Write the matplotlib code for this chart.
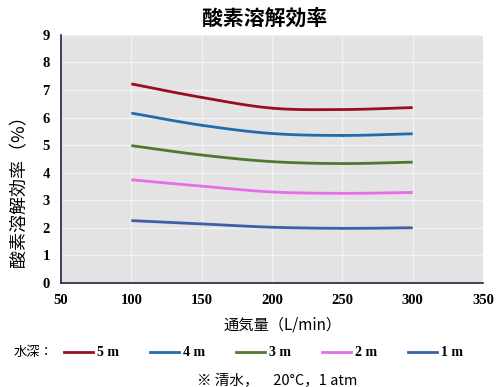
import numpy as np
import matplotlib
matplotlib.use("Agg")
import matplotlib.pyplot as plt
from matplotlib.lines import Line2D

plt.rcParams['font.family'] = ['Noto Sans CJK JP', 'DejaVu Sans']

# data
airflow = [100, 150, 200, 250, 300]
depth_labels = ['5 m', '4 m', '3 m', '2 m', '1 m']
eff_5m = [7.22, 6.73, 6.34, 6.29, 6.36]
eff_4m = [6.16, 5.72, 5.42, 5.35, 5.41]
eff_3m = [4.98, 4.64, 4.40, 4.33, 4.38]
eff_2m = [3.74, 3.51, 3.30, 3.25, 3.28]
eff_1m = [2.26, 2.14, 2.02, 1.98, 2.00]
series = [eff_5m, eff_4m, eff_3m, eff_2m, eff_1m]
colors = ['#9a0f1e', '#1f6cae', '#4d7a2e', '#e66ee6', '#3c5fa6']


def smooth(x, y, n=30):
    # catmull-rom drawing, like Excel's smoothed line
    x = np.asarray(x, float)
    y = np.asarray(y, float)
    px = np.concatenate([[2 * x[0] - x[1]], x, [2 * x[-1] - x[-2]]])
    py = np.concatenate([[2 * y[0] - y[1]], y, [2 * y[-1] - y[-2]]])
    xs, ys = [], []
    t = np.linspace(0, 1, n)
    for i in range(1, len(px) - 2):
        for p, out in ((px, xs), (py, ys)):
            p0, p1, p2, p3 = p[i - 1], p[i], p[i + 1], p[i + 2]
            out.extend(0.5 * (2 * p1 + (-p0 + p2) * t
                              + (2 * p0 - 5 * p1 + 4 * p2 - p3) * t ** 2
                              + (-p0 + 3 * p1 - 3 * p2 + p3) * t ** 3))
    return xs, ys


fig = plt.figure(figsize=(5, 3.87), dpi=100)
ax = fig.add_axes([0.122, 0.269, 0.844, 0.641])
ax.set_facecolor('#e3e3e3')

for vals, c in zip(series, colors):
    sx, sy = smooth(airflow, vals)
    ax.plot(sx, sy, color=c, lw=2, solid_capstyle='butt')

ax.set_xlim(50, 350)
ax.set_ylim(0, 9)
ax.set_xticks(range(50, 351, 50))
ax.set_yticks(range(0, 10))
ax.grid(True, color='#f2f2f2', lw=1)
ax.set_axisbelow(True)
for s in ['top', 'right']:
    ax.spines[s].set_visible(False)
for s in ['left', 'bottom']:
    ax.spines[s].set_color('#1c2540')
    ax.spines[s].set_linewidth(1.2)
ax.tick_params(length=0, pad=8)
for lab in ax.get_xticklabels() + ax.get_yticklabels():
    lab.set_family('Liberation Serif')
    lab.set_fontweight('bold')
    lab.set_fontsize(10.5)

fig.text(0.53, 0.953, '酸素溶解効率', ha='center', va='center',
         fontsize=15, fontweight='bold')
ax.set_ylabel('酸素溶解効率（%）', fontsize=13)
ax.yaxis.set_label_coords(-0.078, 0.39)
ax.set_xlabel('通気量（L/min）', fontsize=11)
ax.xaxis.set_label_coords(0.526, -0.135)

handles = [Line2D([], [], color=c, lw=2) for c in colors]
fig.text(0.028, 0.088, '水深：', fontsize=9.5, va='center')
leg = fig.legend(handles, depth_labels, loc='center', bbox_to_anchor=(0.527, 0.088),
                 ncol=5, frameon=False, handlelength=2.1, handletextpad=0.3,
                 columnspacing=2.2, prop={'family': 'Liberation Serif', 'weight': 'bold', 'size': 10})
fig.text(0.555, 0.017, '※ 清水，　20°C，1 atm', ha='center', va='center',
         fontsize=10.5, family=['Noto Sans CJK JP', 'DejaVu Sans'])

fig.savefig('out.png', dpi=100)
